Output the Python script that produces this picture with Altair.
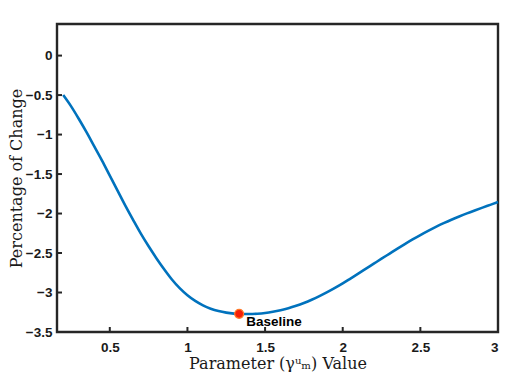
import altair as alt
import pandas as pd

# Curve data
param_x = [0.2, 0.25, 0.3, 0.35, 0.4, 0.45, 0.5, 0.55, 0.6, 0.65, 0.7, 0.75,
           0.8, 0.85, 0.9, 0.95, 1.0, 1.05, 1.1, 1.15, 1.2, 1.25, 1.3, 1.35,
           1.4, 1.45, 1.5, 1.55, 1.6, 1.65, 1.7, 1.75, 1.8, 1.85, 1.9, 1.95,
           2.0, 2.05, 2.1, 2.15, 2.2, 2.25, 2.3, 2.35, 2.4, 2.45, 2.5, 2.55,
           2.6, 2.65, 2.7, 2.75, 2.8, 2.85, 2.9, 2.95, 3.0]
pct_change = [-0.50, -0.64, -0.80, -0.97, -1.15, -1.33, -1.52, -1.71, -1.90, -2.08,
              -2.255, -2.415, -2.565, -2.705, -2.835, -2.945, -3.035, -3.107, -3.163, -3.205,
              -3.235, -3.255, -3.267, -3.272, -3.272, -3.268, -3.259, -3.244, -3.224, -3.199,
              -3.168, -3.132, -3.091, -3.045, -2.995, -2.941, -2.884, -2.823, -2.761, -2.698,
              -2.635, -2.572, -2.51, -2.448, -2.387, -2.328, -2.272, -2.219, -2.169, -2.122,
              -2.078, -2.037, -1.998, -1.961, -1.925, -1.890, -1.855]

baseline_x = [1.333]
baseline_y = [-3.27]
baseline_label = ["Baseline"]

x_ticks = [0.5, 1.0, 1.5, 2.0, 2.5, 3.0]
y_ticks = [-3.5, -3.0, -2.5, -2.0, -1.5, -1.0, -0.5, 0.0]

curve = pd.DataFrame({"x": param_x, "y": pct_change})
base_pt = pd.DataFrame({"x": baseline_x, "y": baseline_y, "label": baseline_label})
xt = pd.DataFrame({"v": x_ticks})
yt = pd.DataFrame({"v": y_ticks})

W, H = 441, 308
xscale = alt.Scale(domain=[0.16, 3.0], nice=False, zero=False)
yscale = alt.Scale(domain=[-3.5, 0.4], nice=False, zero=False)

label_font = "Liberation Sans"
title_font = "DejaVu Serif"

xaxis = alt.Axis(values=x_ticks, format="~g", domain=False, ticks=False, grid=False,
                 labelFont=label_font, labelFontWeight="bold", labelFontSize=13.5,
                 labelColor="#1a1a1a", labelPadding=8,
                 title="Parameter (γᵘₘ) Value", titleFont=title_font,
                 titleFontWeight="normal", titleFontSize=16, titleColor="#1a1a1a",
                 titlePadding=2)
yaxis = alt.Axis(values=y_ticks, format="~g", domain=False, ticks=False, grid=False,
                 labelFont=label_font, labelFontWeight="bold", labelFontSize=13.5,
                 labelColor="#1a1a1a", labelPadding=5,
                 title="Percentage of Change", titleFont=title_font,
                 titleFontWeight="normal", titleFontSize=16, titleColor="#1a1a1a",
                 titlePadding=1)

line = alt.Chart(curve).mark_line(color="#0072BD", strokeWidth=2.6,
                                  interpolate="monotone").encode(
    x=alt.X("x:Q", scale=xscale, axis=xaxis),
    y=alt.Y("y:Q", scale=yscale, axis=yaxis),
)

xtick_marks = alt.Chart(xt).mark_rule(color="#262626", strokeWidth=2).encode(
    x=alt.X("v:Q", scale=xscale),
    y=alt.value(H),
    y2=alt.value(H - 5),
)
ytick_marks = alt.Chart(yt).mark_rule(color="#262626", strokeWidth=2).encode(
    y=alt.Y("v:Q", scale=yscale),
    x=alt.value(0),
    x2=alt.value(5),
)

dot = alt.Chart(base_pt).mark_point(filled=True, size=80, color="#f5200a",
                                    stroke="#ff7a2a", strokeWidth=1.2,
                                    opacity=1).encode(
    x=alt.X("x:Q", scale=xscale),
    y=alt.Y("y:Q", scale=yscale),
)
lbl = alt.Chart(base_pt).mark_text(align="left", baseline="alphabetic", dx=7, dy=12,
                                   font=label_font, fontWeight="bold", fontSize=13.5,
                                   color="#000000").encode(
    x=alt.X("x:Q", scale=xscale),
    y=alt.Y("y:Q", scale=yscale),
    text="label:N",
)

chart = alt.layer(line, xtick_marks, ytick_marks, dot, lbl).properties(
    width=W, height=H,
    background="white",
    autosize=alt.AutoSizeParams(type="none"),
    padding={"left": 49, "top": 16, "right": 12, "bottom": 40},
).configure_view(stroke="#262626", strokeWidth=2.4, strokeOpacity=1)

chart.save("out.html", embed_options={"renderer": "svg", "actions": False})
